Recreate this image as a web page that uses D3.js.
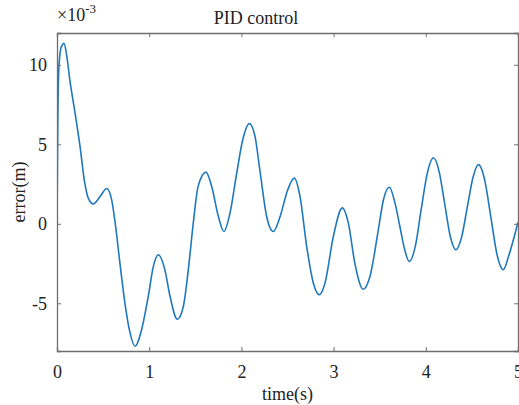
<!DOCTYPE html>
<html>
<head>
<meta charset="utf-8">
<script src="https://cdn.jsdelivr.net/npm/d3@7"></script>
<style>
  body { margin: 0; background: #fff; }
  svg { display: block; }
  svg text { font-family: "Liberation Serif", "Times New Roman", serif; }
</style>
</head>
<body>
<svg id="chart"></svg>
<script>
// time (s) and tracking error (x 1e-3 m)
const timeS = [
  0, 0.008, 0.02, 0.045, 0.076, 0.105, 0.14, 0.195, 0.25, 0.30, 0.34, 0.394,
  0.466, 0.539, 0.593, 0.63, 0.683, 0.737, 0.79, 0.846, 0.918, 0.99, 1.045,
  1.10, 1.17, 1.226, 1.305, 1.37, 1.424, 1.478, 1.53, 1.616, 1.678, 1.75,
  1.81, 1.876, 1.949, 2.014, 2.086, 2.148, 2.20, 2.274, 2.346, 2.42, 2.50,
  2.574, 2.636, 2.708, 2.78, 2.845, 2.907, 2.997, 3.095, 3.16, 3.23, 3.322,
  3.395, 3.485, 3.54, 3.605, 3.666, 3.72, 3.77, 3.82, 3.886, 3.95, 4.017,
  4.083, 4.144, 4.205, 4.266, 4.327, 4.388, 4.45, 4.511, 4.572, 4.639, 4.706,
  4.773, 4.84, 4.9, 4.95, 5.0
];
const errorVals = [
  0, 6.0, 9.8, 11.1, 11.35, 10.6, 9.0, 7.0, 4.85, 2.6, 1.6, 1.25,
  1.7, 2.22, 1.5, 0.1, -2.5, -5.0, -6.8, -7.7, -6.65, -4.56, -2.68,
  -1.95, -2.9, -4.56, -6.0, -5.2, -2.9, 0.04, 2.34, 3.25, 2.34, 0.46,
  -0.48, 0.67, 3.18, 5.27, 6.3, 5.48, 3.39, 0.46, -0.48, 0.46, 2.1,
  2.87, 1.71, -1.42, -3.72, -4.46, -3.72, -0.8, 1.0, 0.04, -2.47, -4.12,
  -3.3, -0.38, 1.5, 2.3, 1.3, -0.2, -1.6, -2.37, -1.42, 0.9, 3.2,
  4.15, 3.3, 1.26, -0.8, -1.63, -0.85, 1.05, 2.9, 3.72, 2.75, 0.4,
  -1.95, -2.89, -2.0, -1.0, 0.1
];
const xTicks = [0, 1, 2, 3, 4, 5];
const yTicks = [-5, 0, 5, 10];

const W = 519, H = 405;
const margin = { top: 33, right: 1, bottom: 54, left: 57 };
const width = W - margin.left - margin.right;
const height = H - margin.top - margin.bottom;

const svg = d3.select('#chart').attr('width', W).attr('height', H);
const g = svg.append('g').attr('transform', `translate(${margin.left},${margin.top})`);

const x = d3.scaleLinear().domain([0, 5]).range([0, width]);
const y = d3.scaleLinear().domain([-8, 12]).range([height, 0]);

const axisColor = '#6e6e6e';
const textColor = '#222';

g.append('clipPath').attr('id', 'clip')
  .append('rect').attr('width', width).attr('height', height);

const data = timeS.map((t, i) => ({ t, v: errorVals[i] }));

const line = d3.line()
  .x((d) => x(d.t))
  .y((d) => y(d.v))
  .curve(d3.curveMonotoneX);

g.append('path')
  .datum(data)
  .attr('clip-path', 'url(#clip)')
  .attr('fill', 'none')
  .attr('stroke', '#1f78be')
  .attr('stroke-width', 1.6)
  .attr('stroke-linejoin', 'round')
  .attr('d', line);

// axes (ticks pointing inward, matlab style)
const tl = 4;
const fmt = (d) => String(d);
const bottomAx = g.append('g').attr('transform', `translate(0,${height})`)
  .call(d3.axisBottom(x).tickValues(xTicks).tickSize(-tl).tickPadding(14).tickFormat(fmt));
const topAx = g.append('g')
  .call(d3.axisTop(x).tickValues(xTicks).tickSize(-tl).tickFormat(''));
const leftAx = g.append('g')
  .call(d3.axisLeft(y).tickValues(yTicks).tickSize(-tl).tickPadding(10).tickFormat(fmt));
const rightAx = g.append('g').attr('transform', `translate(${width},0)`)
  .call(d3.axisRight(y).tickValues(yTicks).tickSize(-tl).tickFormat(''));

[bottomAx, topAx, leftAx, rightAx].forEach((a) => {
  a.attr('font-family', null).attr('font-size', null);
  a.select('.domain').attr('stroke', axisColor).attr('stroke-width', 1.3);
  a.selectAll('.tick line').attr('stroke', axisColor).attr('stroke-width', 1);
  a.selectAll('.tick text')
    .attr('fill', textColor)
    .style('font-size', '18px');
});

// exponent label
const expo = svg.append('text')
  .attr('x', margin.left)
  .attr('y', 21)
  .attr('fill', textColor)
  .style('font-size', '18px');
expo.append('tspan').text('\u00d710');
expo.append('tspan').attr('dy', -8).style('font-size', '13px').text('-3');

svg.append('text')
  .attr('x', 256)
  .attr('y', 24)
  .attr('text-anchor', 'middle')
  .attr('fill', textColor)
  .style('font-size', '18px')
  .text('PID control');

svg.append('text')
  .attr('transform', `translate(25,${margin.top + height / 2}) rotate(-90)`)
  .attr('text-anchor', 'middle')
  .attr('fill', textColor)
  .style('font-size', '18px')
  .text('error(m)');

svg.append('text')
  .attr('x', margin.left + width / 2)
  .attr('y', 400)
  .attr('text-anchor', 'middle')
  .attr('fill', textColor)
  .style('font-size', '18px')
  .text('time(s)');
</script>
</body>
</html>
